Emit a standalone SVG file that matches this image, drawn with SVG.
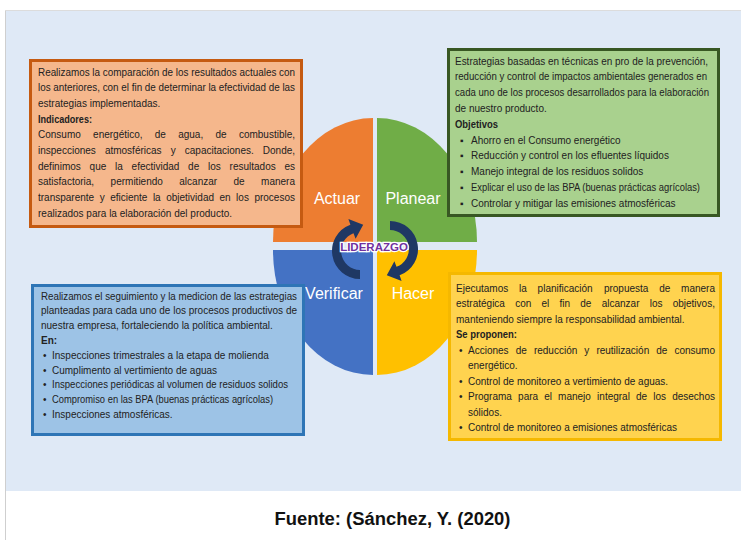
<svg xmlns="http://www.w3.org/2000/svg" width="741" height="540" viewBox="0 0 741 540">
  <defs>
    <style>
      .body { font-family: "Liberation Sans", Arial, sans-serif; font-size: 10px; fill: #222222; }
      .bold { font-weight: bold; }
      .quad-label { font-family: "Liberation Sans", Arial, sans-serif; font-size: 16px; fill: #ffffff; text-anchor: middle; }
      .box-orange { fill: #f5b78c; stroke: #c55a11; stroke-width: 3; }
      .box-green { fill: #a9d18e; stroke: #385723; stroke-width: 3; }
      .box-blue { fill: #9dc3e6; stroke: #2e75b6; stroke-width: 3; }
      .box-yellow { fill: #ffd34f; stroke: #f5b800; stroke-width: 3; }
      .cycle-arrow { fill: #1f3864; }
      .center-label { font-family: "Liberation Sans", Arial, sans-serif; font-size: 11.5px; font-weight: bold; fill: #7030a0; stroke: #ffffff; stroke-width: 2.5; paint-order: stroke; text-anchor: middle; }
      .caption { font-family: "Liberation Sans", Arial, sans-serif; font-size: 18px; font-weight: bold; fill: #111111; text-anchor: middle; }
    </style>
    <!-- curved cycle arrow, left half; the right half is the same shape turned 180 degrees -->
    <path id="cycle-arrow-shape" class="cycle-arrow"
          d="M 360 279 A 28 28 0 0 1 350.4 224.7 L 348.4 219 L 363.2 224.8 L 355.6 238.8 L 353.5 233.2 A 19 19 0 0 0 360 270 Z"/>
  </defs>

  <!-- page frame and panel -->
  <rect x="0" y="0" width="741" height="540" fill="#ffffff"/>
  <rect x="6" y="11" width="735" height="480" fill="#dfe9f6"/>
  <line x1="5.5" y1="10" x2="5.5" y2="540" stroke="#cfcfcf" stroke-width="1"/>
  <line x1="5" y1="10.5" x2="741" y2="10.5" stroke="#dcdcdc" stroke-width="1"/>

  <!-- Actuar -->
  <g id="actuar">
    <path d="M 373 242 L 273 242 A 100 124 0 0 1 373 118 Z" fill="#ed7d31"/>
    <text class="quad-label" x="337" y="204">Actuar</text>
    <rect class="box-orange" x="30.5" y="60.5" width="271" height="166"/>
    <text class="body" x="38" y="75.5" textLength="257" lengthAdjust="spacingAndGlyphs">Realizamos la comparación de los resultados actuales con</text>
    <text class="body" x="38" y="91.2" textLength="257" lengthAdjust="spacingAndGlyphs">los anteriores, con el fin de determinar la efectividad de las</text>
    <text class="body" x="38" y="106.9">estrategias implementadas.</text>
    <text class="body bold" x="38" y="122.6" textLength="54" lengthAdjust="spacingAndGlyphs">Indicadores:</text>
    <text class="body" y="138.3"><tspan x="38">Consumo</tspan><tspan x="93.1">energético,</tspan><tspan x="154.8">de</tspan><tspan x="178.2">agua,</tspan><tspan x="215.5">de</tspan><tspan x="238.9">combustible,</tspan></text>
    <text class="body" y="154"><tspan x="38">inspecciones</tspan><tspan x="104.9">atmosféricas</tspan><tspan x="170.7">y</tspan><tspan x="184.8">capacitaciones.</tspan><tspan x="262.8">Donde,</tspan></text>
    <text class="body" y="169.7"><tspan x="38">definimos</tspan><tspan x="89.6">que</tspan><tspan x="115">la</tspan><tspan x="131.6">efectividad</tspan><tspan x="188.1">de</tspan><tspan x="208">los</tspan><tspan x="229.6">resultados</tspan><tspan x="284.4">es</tspan></text>
    <text class="body" y="185.4"><tspan x="38">satisfactoria,</tspan><tspan x="110.6">permitiendo</tspan><tspan x="179.3">alcanzar</tspan><tspan x="233.5">de</tspan><tspan x="261.1">manera</tspan></text>
    <text class="body" y="201.1"><tspan x="38">transparente</tspan><tspan x="99.7">y</tspan><tspan x="110.2">eficiente</tspan><tspan x="152.9">la</tspan><tspan x="166.2">objetividad</tspan><tspan x="219.5">en</tspan><tspan x="236.1">los</tspan><tspan x="254.4">procesos</tspan></text>
    <text class="body" x="38" y="216.8">realizados para la elaboración del producto.</text>
  </g>

  <!-- Planear -->
  <g id="planear">
    <path d="M 377 242 L 377 118 A 100 124 0 0 1 477 242 Z" fill="#70ad47"/>
    <text class="quad-label" x="413" y="204">Planear</text>
    <rect class="box-green" x="448.5" y="49.5" width="270" height="166"/>
    <text class="body" x="455" y="64.5" textLength="253" lengthAdjust="spacingAndGlyphs">Estrategias basadas en técnicas en pro de la prevención,</text>
    <text class="body" x="455" y="80.3" textLength="252" lengthAdjust="spacingAndGlyphs">reducción y control de impactos ambientales generados en</text>
    <text class="body" x="455" y="96.1" textLength="254" lengthAdjust="spacingAndGlyphs">cada uno de los procesos desarrollados para la elaboración</text>
    <text class="body" x="455" y="111.9">de nuestro producto.</text>
    <text class="body bold" x="455" y="127.7" textLength="43" lengthAdjust="spacingAndGlyphs">Objetivos</text>
    <text class="body" x="460" y="143.5">▪</text>
    <text class="body" x="471" y="143.5">Ahorro en el Consumo energético</text>
    <text class="body" x="460" y="159.3">▪</text>
    <text class="body" x="471" y="159.3">Reducción y control en los efluentes líquidos</text>
    <text class="body" x="460" y="175.1">▪</text>
    <text class="body" x="471" y="175.1">Manejo integral de los residuos solidos</text>
    <text class="body" x="460" y="190.9">▪</text>
    <text class="body" x="471" y="190.9" textLength="229" lengthAdjust="spacingAndGlyphs">Explicar el uso de las BPA (buenas prácticas agrícolas)</text>
    <text class="body" x="460" y="206.7">▪</text>
    <text class="body" x="471" y="206.7">Controlar y mitigar las emisiones atmosféricas</text>
  </g>

  <!-- Verificar -->
  <g id="verificar">
    <path d="M 373 250 L 273 250 A 100 125 0 0 0 373 375 Z" fill="#4472c4"/>
    <text class="quad-label" x="334" y="299">Verificar</text>
    <rect class="box-blue" x="32.5" y="285.5" width="271" height="149"/>
    <text class="body" x="41" y="299.5" textLength="256" lengthAdjust="spacingAndGlyphs">Realizamos el seguimiento y la medicion de las estrategias</text>
    <text class="body" x="41" y="314.3" textLength="256" lengthAdjust="spacingAndGlyphs">planteadas para cada uno de los procesos productivos de</text>
    <text class="body" x="41" y="329.1">nuestra empresa, fortaleciendo la política ambiental.</text>
    <text class="body bold" x="41" y="343.9">En:</text>
    <text class="body" x="43" y="358.7">•</text>
    <text class="body" x="52" y="358.7">Inspecciones trimestrales a la etapa de molienda</text>
    <text class="body" x="43" y="373.5">•</text>
    <text class="body" x="52" y="373.5">Cumplimento al vertimiento de aguas</text>
    <text class="body" x="43" y="388.3">•</text>
    <text class="body" x="52" y="388.3" textLength="236" lengthAdjust="spacingAndGlyphs">Inspecciones periódicas al volumen de residuos solidos</text>
    <text class="body" x="43" y="403.1">•</text>
    <text class="body" x="52" y="403.1" textLength="221" lengthAdjust="spacingAndGlyphs">Compromiso en las BPA (buenas prácticas agrícolas)</text>
    <text class="body" x="43" y="417.9">•</text>
    <text class="body" x="52" y="417.9">Inspecciones atmosféricas.</text>
  </g>

  <!-- Hacer -->
  <g id="hacer">
    <path d="M 377 250 L 477 250 A 100 125 0 0 1 377 375 Z" fill="#ffc000"/>
    <text class="quad-label" x="413" y="299">Hacer</text>
    <rect class="box-yellow" x="449.5" y="273.5" width="271" height="166"/>
    <text class="body" y="291.5"><tspan x="456">Ejecutamos</tspan><tspan x="519">la</tspan><tspan x="537.6">planificación</tspan><tspan x="603.9">propuesta</tspan><tspan x="659.2">de</tspan><tspan x="681.1">manera</tspan></text>
    <text class="body" y="307"><tspan x="456">estratégica</tspan><tspan x="515.2">con</tspan><tspan x="541.5">el</tspan><tspan x="559.5">fin</tspan><tspan x="580.3">de</tspan><tspan x="601.7">alcanzar</tspan><tspan x="649.7">los</tspan><tspan x="672.7">objetivos,</tspan></text>
    <text class="body" x="456" y="322.5">manteniendo siempre la responsabilidad ambiental.</text>
    <text class="body bold" x="456" y="338" textLength="61" lengthAdjust="spacingAndGlyphs">Se proponen:</text>
    <text class="body" x="459" y="353.5">•</text>
    <text class="body" y="353.5"><tspan x="468">Acciones</tspan><tspan x="515.7">de</tspan><tspan x="533.9">reducción</tspan><tspan x="584.3">y</tspan><tspan x="596.4">reutilización</tspan><tspan x="656.2">de</tspan><tspan x="674.4">consumo</tspan></text>
    <text class="body" x="468" y="369">energético.</text>
    <text class="body" x="459" y="384.5">•</text>
    <text class="body" x="468" y="384.5">Control de monitoreo a vertimiento de aguas.</text>
    <text class="body" x="459" y="400">•</text>
    <text class="body" y="400"><tspan x="468">Programa</tspan><tspan x="518.1">para</tspan><tspan x="544.2">el</tspan><tspan x="558.1">manejo</tspan><tspan x="597.1">integral</tspan><tspan x="636">de</tspan><tspan x="653.3">los</tspan><tspan x="672.2">desechos</tspan></text>
    <text class="body" x="468" y="415.5">sólidos.</text>
    <text class="body" x="459" y="431">•</text>
    <text class="body" x="468" y="431">Control de monitoreo a emisiones atmosféricas</text>
  </g>

  <!-- cycle arrows around the centre -->
  <g id="connectors">
    <use href="#cycle-arrow-shape"/>
    <use href="#cycle-arrow-shape" transform="rotate(180 375 250)"/>
  </g>

  <!-- centre label -->
  <g id="liderazgo">
    <text class="center-label" x="374" y="251">LIDERAZGO</text>
  </g>

  <!-- source line -->
  <g id="fuente">
    <text class="caption" x="392.5" y="525" textLength="236" lengthAdjust="spacingAndGlyphs">Fuente: (Sánchez, Y. (2020)</text>
  </g>
</svg>
